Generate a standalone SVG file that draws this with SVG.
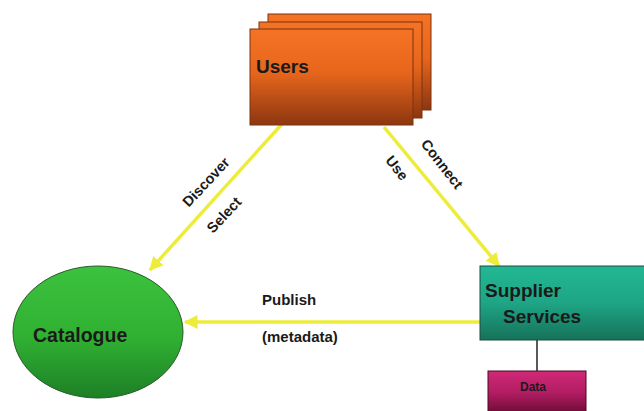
<svg xmlns="http://www.w3.org/2000/svg" width="644" height="411" viewBox="0 0 644 411">
<defs>
<linearGradient id="gOrange" x1="0" y1="0" x2="0" y2="1">
<stop offset="0" stop-color="#f47324"/><stop offset="0.45" stop-color="#e8661c"/><stop offset="1" stop-color="#8c3610"/>
</linearGradient>
<linearGradient id="gGreen" x1="0" y1="0" x2="0" y2="1">
<stop offset="0" stop-color="#3cc23e"/><stop offset="0.55" stop-color="#30b032"/><stop offset="1" stop-color="#1d7f26"/>
</linearGradient>
<linearGradient id="gTeal" x1="0" y1="0" x2="0" y2="1">
<stop offset="0" stop-color="#22b894"/><stop offset="0.5" stop-color="#1ea585"/><stop offset="1" stop-color="#167259"/>
</linearGradient>
<linearGradient id="gMag" x1="0" y1="0" x2="0" y2="1">
<stop offset="0" stop-color="#d02a78"/><stop offset="0.5" stop-color="#b01c62"/><stop offset="1" stop-color="#62092f"/>
</linearGradient>
<marker id="arrow" viewBox="0 0 10 10" refX="9" refY="5" markerWidth="4" markerHeight="4" orient="auto" markerUnits="strokeWidth">
<path d="M0,0 L10,5 L0,10 z" fill="#eeec3a"/>
</marker>
<style>
.lbl{font-family:"Liberation Sans",Arial,sans-serif;font-weight:bold;fill:#1a1a1a}
.conn{stroke:#eeec3a;stroke-width:3.5;fill:none;marker-end:url(#arrow)}
</style>
</defs>
<rect width="644" height="411" fill="#ffffff"/>
<g id="connectors">
<line class="conn" x1="282" y1="124" x2="150" y2="270"/>
<line class="conn" x1="384" y1="127" x2="499" y2="266"/>
<line class="conn" x1="480" y1="322" x2="185" y2="322"/>
<line x1="537" y1="340" x2="537" y2="371" stroke="#222" stroke-width="1.5"/>
<text class="lbl" font-size="14.5" transform="translate(206,182) rotate(-47)" text-anchor="middle" y="5">Discover</text>
<text class="lbl" font-size="14.5" transform="translate(224,215) rotate(-47)" text-anchor="middle" y="5">Select</text>
<text class="lbl" font-size="14.5" transform="translate(442,164) rotate(52)" text-anchor="middle" y="5">Connect</text>
<text class="lbl" font-size="14.5" transform="translate(397,168) rotate(52)" text-anchor="middle" y="5">Use</text>
<text class="lbl" font-size="15" x="262" y="305">Publish</text>
<text class="lbl" font-size="15" x="262" y="342">(metadata)</text>
</g>
<g id="users">
<rect x="268" y="14" width="163" height="96" fill="url(#gOrange)" stroke="#7a3210" stroke-width="1"/>
<rect x="259" y="22" width="163" height="96" fill="url(#gOrange)" stroke="#7a3210" stroke-width="1"/>
<rect x="250" y="29" width="163" height="96" fill="url(#gOrange)" stroke="#7a3210" stroke-width="1"/>
<text class="lbl" font-size="19" x="256" y="73">Users</text>
</g>
<g id="catalogue">
<ellipse cx="98" cy="332" rx="85" ry="66" fill="url(#gGreen)" stroke="#2a5a2a" stroke-width="1"/>
<text class="lbl" font-size="19.5" x="33" y="342">Catalogue</text>
</g>
<g id="supplier">
<rect x="480" y="266" width="170" height="74" fill="url(#gTeal)" stroke="#1e4a40" stroke-width="1"/>
<text class="lbl" font-size="19" x="485" y="297">Supplier</text>
<text class="lbl" font-size="19" x="503" y="323">Services</text>
</g>
<g id="data">
<rect x="488" y="371" width="98" height="45" fill="url(#gMag)" stroke="#4a0a24" stroke-width="1"/>
<text class="lbl" font-size="12" x="533" y="391" text-anchor="middle">Data</text>
</g>
</svg>
